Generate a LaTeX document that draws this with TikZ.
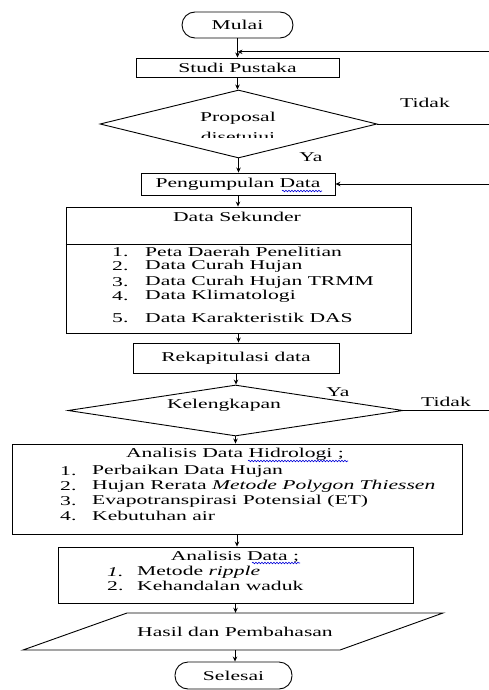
\documentclass[tikz,border=0pt]{standalone}
\usepackage{fontspec}
\setmainfont{Liberation Serif}
\usetikzlibrary{shapes.geometric,arrows.meta,decorations.pathmorphing}
\newcommand\sx[1]{\scalebox{1.6}[1]{#1}}
\begin{document}
\begin{tikzpicture}[x=1pt,y=-1pt, font=\fontsize{13.5}{15.5}\selectfont,
 box/.style={draw, line width=0.9pt, inner sep=0pt},
 arr/.style={-{Stealth[length=5pt,width=4.5pt]}, line width=0.8pt},
 ln/.style={line width=0.8pt},
 txt/.style={inner sep=0pt, anchor=west},
 ctr/.style={inner sep=0pt},
 squig/.style={draw=blue!85!black, line width=0.6pt, decorate, decoration={snake, amplitude=0.8pt, segment length=3pt}}]
\clip (0,0) rectangle (489,690);
% nodes
\node[box, rounded corners=13pt, minimum width=111pt, minimum height=26pt] (mulai) at (237.5,25) {\sx{Mulai}};
\node[box, minimum width=203pt, minimum height=19pt] (studi) at (237.5,67.5) {\sx{Studi Pustaka}};
\node[box, diamond, aspect=4.07, minimum width=277pt, minimum height=68pt] (prop) at (238.5,124) {};
\node[ctr] (proptxt1) at (238,118) {\sx{Proposal}};
\begin{scope}
\clip (150,95) rectangle (330,137);
\node[ctr] (proptxt2) at (238,138) {\sx{disetujui}};
\end{scope}
\node[ctr] (ya1) at (311,157) {\sx{Ya}};
\node[ctr] (tidak1) at (425,103) {\sx{Tidak}};
\node[box, minimum width=194pt, minimum height=22pt] (peng) at (238,184) {\sx{Pengumpulan Data}};
\node[box, minimum width=345pt, minimum height=126pt] (sek) at (238.5,270) {};
\draw[line width=0.9pt] (sek.west |- 0,244) -- (sek.east |- 0,244);
\node[ctr] (sektitle) at (237,217) {\sx{Data Sekunder}};
\node[txt] (n1) at (112,252) {\sx{1.}};
\node[txt] (t1) at (145,252) {\sx{Peta Daerah Penelitian}};
\node[txt] (n2) at (112,266) {\sx{2.}};
\node[txt] (t2) at (145,266) {\sx{Data Curah Hujan}};
\node[txt] (n3) at (112,282) {\sx{3.}};
\node[txt] (t3) at (145,282) {\sx{Data Curah Hujan TRMM}};
\node[txt] (n4) at (112,296) {\sx{4.}};
\node[txt] (t4) at (145,296) {\sx{Data Klimatologi}};
\node[txt] (n5) at (112,318) {\sx{5.}};
\node[txt] (t5) at (145,318) {\sx{Data Karakteristik DAS}};
\node[box, minimum width=206pt, minimum height=30pt] (rekap) at (236,358) {\sx{Rekapitulasi data}};
\node[ctr] (ya2) at (338,392) {\sx{Ya}};
\node[box, diamond, aspect=6.57, minimum width=335pt, minimum height=51pt] (kel) at (235.5,410.5) {};
\node[ctr] (keltxt) at (224,405) {\sx{Kelengkapan}};
\node[ctr] (tidak2) at (446,402) {\sx{Tidak}};
\node[box, minimum width=450pt, minimum height=90pt] (hid) at (237,489) {};
\node[ctr] (hidtitle) at (235,454) {\sx{Analisis Data Hidrologi ;}};
\node[txt] (h1n) at (60,471) {\sx{1.}};
\node[txt] (h1) at (92,471) {\sx{Perbaikan Data Hujan}};
\node[txt] (h2n) at (60,486) {\sx{2.}};
\node[txt] (h2) at (92,486) {\sx{Hujan Rerata \textit{Metode Polygon Thiessen}}};
\node[txt] (h3n) at (60,501) {\sx{3.}};
\node[txt] (h3) at (92,501) {\sx{Evapotranspirasi Potensial (ET)}};
\node[txt] (h4n) at (60,516) {\sx{4.}};
\node[txt] (h4) at (92,516) {\sx{Kebutuhan air}};
\node[box, minimum width=355pt, minimum height=56pt] (anal) at (235.5,575) {};
\node[ctr] (analtitle) at (235,557) {\sx{Analisis Data ;}};
\node[txt] (a1n) at (107,572) {\sx{\textit{1.}}};
\node[txt] (a1) at (137,572) {\sx{Metode \textit{ripple}}};
\node[txt] (a2n) at (107,586) {\sx{2.}};
\node[txt] (a2) at (137,586) {\sx{Kehandalan waduk}};
\draw[line width=0.9pt] (127,613) -- (443,613) -- (340,650) -- (23,650) -- cycle;
\node[ctr, minimum height=37pt] (hasil) at (235,631.5) {\sx{Hasil dan Pembahasan}};
\node[box, rounded corners=13pt, minimum width=117pt, minimum height=27pt] (selesai) at (233.5,675.5) {\sx{Selesai}};
% squiggles
\draw[squig] (282,191) -- (322,191);
\draw[squig] (248,461) -- (348,461);
\draw[squig] (252,563) -- (300,563);
% connectors
\coordinate (rx) at (495,0);
\path (mulai.south) -- (studi.north) coordinate[pos=0.7] (fb1);
\draw[arr] (mulai.south) -- (mulai.south |- studi.north);
\draw[arr] (studi.south) -- (studi.south |- prop.north);
\draw[arr] (prop.south) -- (prop.south |- peng.north);
\draw[arr] (peng.south) -- (peng.south |- sek.north);
\draw[arr] (sek.south) -- (sek.south |- rekap.north);
\draw[arr] (rekap.south) -- (rekap.south |- kel.north);
\draw[arr] (kel.south) -- (kel.south |- hid.north);
\draw[arr] (hid.south) -- (hid.south |- anal.north);
\draw[arr] (anal.south) -- (anal.south |- hasil.north);
\draw[arr] (hasil.south) -- (hasil.south |- selesai.north);
\draw[arr] (prop.east) -- (prop.east -| rx) |- (fb1);
\draw[arr] (kel.east) -- (kel.east -| rx) |- (peng.east);
\end{tikzpicture}
\end{document}
